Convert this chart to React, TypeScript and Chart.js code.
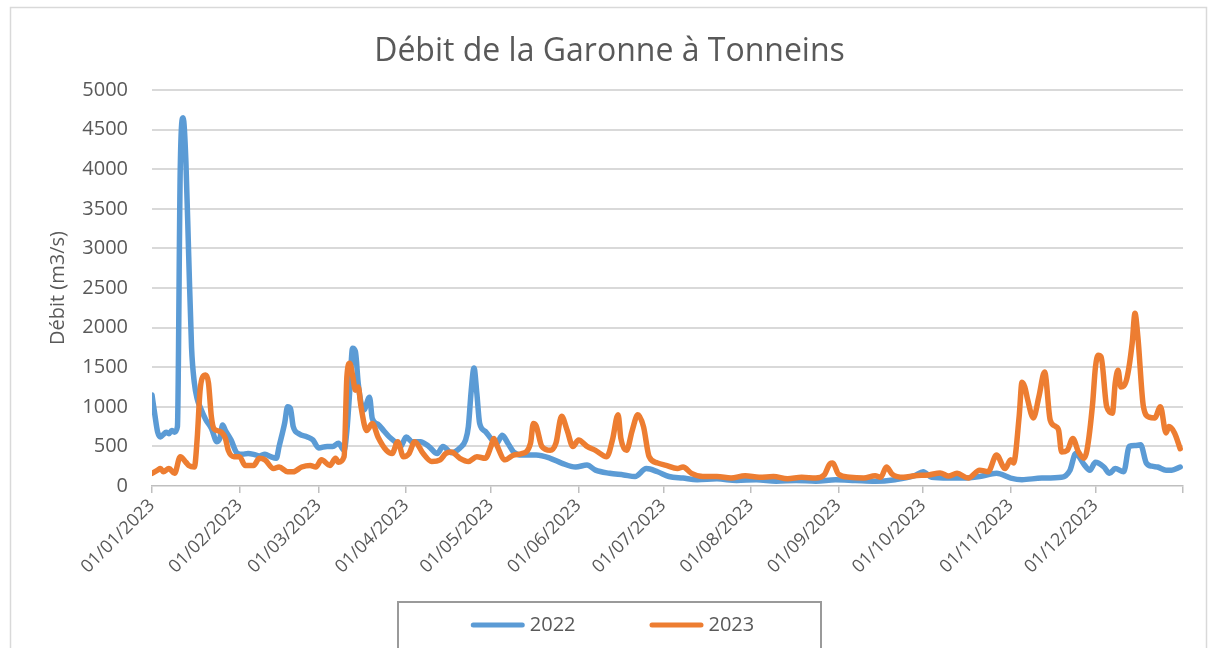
import React, { useEffect, useRef } from 'react';
import { Chart, registerables } from 'chart.js';

Chart.register(...registerables);

const chartTitle = 'Débit de la Garonne à Tonneins';
const yAxisTitle = 'Débit (m3/s)';
const seriesNames = ['2022', '2023'];
const seriesColors = ['#5B9BD5', '#ED7D31'];

// day offsets (from 01/01) of the month ticks, and their labels
const monthStartDays = [0, 31, 59, 90, 120, 151, 181, 212, 243, 273, 304, 334, 365];
const monthLabels = [
  '01/01/2023', '01/02/2023', '01/03/2023', '01/04/2023', '01/05/2023', '01/06/2023',
  '01/07/2023', '01/08/2023', '01/09/2023', '01/10/2023', '01/11/2023', '01/12/2023', '',
];

const yMin = 0;
const yMax = 5000;
const yStep = 500;

// 2022 series: day of year (0 = 01/01) and flow (m3/s)
const days2022 = [
  0, 1, 2, 3, 4, 5, 6, 7, 8, 9, 10, 11, 12, 13, 14, 15, 16, 17, 19, 21, 23, 24, 25, 26, 28, 30,
  32, 34, 36, 38, 40, 42, 44, 45, 47, 48, 49, 50, 52, 55, 57, 59, 62, 64, 66, 68, 69, 70, 71, 72,
  73, 74, 75, 77, 78, 80, 82, 84, 86, 88, 90, 92, 95, 98, 101, 103, 106, 109, 111, 112, 113, 114,
  115, 116, 118, 120, 122, 124, 126, 128, 131, 136, 141, 145, 150, 154, 157, 162, 167, 171, 175,
  179, 183, 188, 193, 200, 207, 214, 221, 228, 235, 242, 249, 256, 263, 270, 273, 276, 282, 287,
  293, 299, 304, 308, 315, 322, 325, 327, 330, 332, 334, 337, 339, 341, 344, 346, 348, 350, 352,
  354, 356, 359, 361, 364,
];
const flow2022 = [
  1150, 900, 680, 620, 650, 680, 660, 700, 680, 750, 4000, 4650, 4100, 2900, 1750, 1300, 1100, 1000,
  840, 730, 560, 600, 770, 700, 580, 420, 400, 410, 400, 380, 400, 370, 350, 500, 800, 1000, 980,
  750, 660, 620, 580, 480, 500, 500, 540, 450, 700, 1200, 1740, 1700, 1300, 1050, 960, 1120, 850,
  780, 700, 620, 560, 500, 620, 560, 560, 500, 410, 500, 420, 480, 580, 750, 1200, 1490, 1170, 790,
  690, 600, 540, 640, 540, 430, 390, 390, 350, 290, 240, 265, 200, 160, 140, 120, 220, 180, 120,
  100, 80, 90, 70, 80, 60, 70, 60, 80, 70, 60, 80, 130, 180, 110, 100, 100, 120, 160, 100, 80,
  100, 110, 200, 410, 270, 200, 300, 240, 160, 220, 180, 500, 510, 520, 290, 250, 240, 200, 200,
  240,
];

// 2023 series: day of year (0 = 01/01) and flow (m3/s)
const days2023 = [
  0, 2, 3, 4, 6, 8, 10, 12, 13, 15, 16, 17, 18, 19, 20, 21, 22, 24, 26, 27, 29, 31, 33, 36, 38,
  40, 43, 45, 48, 50, 53, 56, 58, 60, 63, 65, 66, 68, 69, 70, 71, 72, 73, 74, 76, 78, 80, 83, 85,
  87, 89, 91, 93, 96, 99, 102, 104, 106, 109, 112, 115, 118, 120, 121, 122, 125, 128, 131, 134,
  135, 136, 138, 141, 143, 145, 147, 149, 151, 154, 157, 161, 163, 165, 166, 168, 170, 172, 174,
  176, 179, 182, 186, 188, 191, 195, 200, 205, 210, 215, 220, 225, 230, 235, 238, 240, 241, 243,
  247, 252, 256, 258, 260, 262, 266, 270, 275, 279, 282, 285, 289, 293, 296, 299, 302, 304, 305,
  307, 308, 309, 310, 312, 314, 316, 318, 320, 321, 322, 324, 326, 328, 330, 331, 333, 334, 335,
  336, 338, 340, 341, 342, 343, 345, 347, 348, 349, 351, 353, 355, 357, 359, 360, 362, 364,
];
const flow2023 = [
  160, 200, 220, 180, 220, 160, 370, 300, 260, 240, 600, 1200, 1380, 1400, 1300, 880, 720, 690,
  600, 450, 370, 370, 260, 260, 350, 330, 220, 240, 180, 180, 240, 260, 240, 330, 260, 350, 300,
  370, 1380, 1550, 1400, 1210, 1250, 1000, 700, 790, 620, 450, 410, 560, 370, 410, 560, 410, 310,
  330, 410, 430, 350, 310, 370, 350, 500, 600, 520, 330, 390, 410, 540, 790, 760, 500, 450, 540,
  880, 700, 500, 580, 500, 450, 370, 580, 900, 600, 450, 700, 900, 750, 370, 290, 260, 220, 240,
  160, 120, 120, 100, 130, 110, 120, 90, 110, 100, 140, 280, 290, 150, 110, 100, 130, 110, 240,
  150, 110, 130, 140, 165, 125, 160, 100, 200, 180, 390, 220, 330, 290, 880, 1310, 1250, 1090,
  860, 1130, 1440, 830, 750, 700, 430, 450, 600, 430, 350, 450, 1040, 1500, 1650, 1630, 1000, 920,
  1300, 1460, 1250, 1340, 1800, 2180, 1890, 1000, 870, 860, 1000, 670, 750, 670, 470,
];

const FONT = "'Open Sans', 'DejaVu Sans', sans-serif";
const TEXT_COLOR = '#595959';

const framePlugin = {
  id: 'frameAndLegend',
  beforeDraw(chart: any) {
    const { ctx, width, height } = chart;
    ctx.save();
    ctx.fillStyle = '#ffffff';
    ctx.fillRect(0, 0, width, height);
    ctx.strokeStyle = '#d9d9d9';
    ctx.lineWidth = 1.5;
    ctx.strokeRect(10.5, 7.5, width - 23, height + 20);
    ctx.restore();
  },
  afterDraw(chart: any) {
    const { ctx, width } = chart;
    ctx.save();
    const boxW = 423;
    const boxLeft = Math.round(width / 2 - boxW / 2);
    const boxTop = 602;
    ctx.strokeStyle = '#9a9a9a';
    ctx.lineWidth = 2;
    ctx.strokeRect(boxLeft, boxTop, boxW, 80);
    ctx.font = `20px ${FONT}`;
    const lineLen = 54;
    const gap = 5;
    const itemGap = 74;
    const widths = seriesNames.map((n) => ctx.measureText(n).width);
    const total = widths.reduce((a, w) => a + lineLen + gap + w, 0) + itemGap * (seriesNames.length - 1);
    let x = width / 2 - total / 2 + 3;
    const cy = 625;
    seriesNames.forEach((name, i) => {
      ctx.strokeStyle = seriesColors[i];
      ctx.lineWidth = 5;
      ctx.lineCap = 'round';
      ctx.beginPath();
      ctx.moveTo(x + 2.5, cy);
      ctx.lineTo(x + lineLen - 2.5, cy);
      ctx.stroke();
      ctx.fillStyle = TEXT_COLOR;
      ctx.textBaseline = 'middle';
      ctx.textAlign = 'left';
      ctx.fillText(name, x + lineLen + gap, cy);
      x += lineLen + gap + widths[i] + itemGap;
    });
    ctx.restore();
  },
};

export default function App() {
  const canvasRef = useRef<HTMLCanvasElement | null>(null);

  useEffect(() => {
    const canvas = canvasRef.current;
    if (!canvas) return;
    const toPoints = (days: number[], vals: number[]) => days.map((d, i) => ({ x: d, y: vals[i] }));
    const chart = new Chart(canvas, {
      type: 'line',
      data: {
        datasets: [
          {
            label: seriesNames[0],
            data: toPoints(days2022, flow2022),
            borderColor: seriesColors[0],
            backgroundColor: seriesColors[0],
            borderWidth: 5.5,
            pointRadius: 0,
            tension: 0.3,
            cubicInterpolationMode: 'monotone',
            borderJoinStyle: 'round',
            borderCapStyle: 'round',
            order: 1,
          },
          {
            label: seriesNames[1],
            data: toPoints(days2023, flow2023),
            borderColor: seriesColors[1],
            backgroundColor: seriesColors[1],
            borderWidth: 5.5,
            pointRadius: 0,
            tension: 0.3,
            cubicInterpolationMode: 'monotone',
            borderJoinStyle: 'round',
            borderCapStyle: 'round',
            order: 0,
          },
        ],
      },
      options: {
        responsive: false,
        animation: false,
        events: [],
        layout: { padding: { left: 0, right: 0, top: 0, bottom: 42 } },
        plugins: {
          legend: { display: false },
          tooltip: { enabled: false },
          title: {
            display: true,
            text: chartTitle,
            color: TEXT_COLOR,
            font: { family: FONT, size: 32, weight: 'normal', lineHeight: 1.2 },
            padding: { top: 33, bottom: 18.6 },
          },
        },
        scales: {
          x: {
            type: 'linear',
            min: monthStartDays[0],
            max: monthStartDays[monthStartDays.length - 1],
            afterBuildTicks: (axis: any) => {
              axis.ticks = monthStartDays.map((v) => ({ value: v }));
            },
            afterFit: (axis: any) => {
              axis.height = 120;
            },
            ticks: {
              autoSkip: false,
              minRotation: 45,
              maxRotation: 45,
              padding: 2,
              color: TEXT_COLOR,
              font: { family: FONT, size: 18 },
              callback: (_v: any, i: number) => monthLabels[i],
            },
            grid: {
              drawOnChartArea: false,
              drawTicks: true,
              tickLength: 7,
              color: '#bfbfbf',
              lineWidth: 1.5,
            },
            border: { display: true, color: '#bfbfbf', width: 1.5 },
          },
          y: {
            min: yMin,
            max: yMax,
            afterFit: (axis: any) => {
              axis.width = 152;
            },
            ticks: {
              stepSize: yStep,
              padding: 24,
              color: TEXT_COLOR,
              font: { family: FONT, size: 20 },
              callback: (v: any) => String(v),
            },
            grid: {
              color: (c: any) => (c.tick && c.tick.value === 0 ? 'rgba(0,0,0,0)' : '#d9d9d9'),
              lineWidth: 2,
              drawTicks: false,
            },
            border: { display: false },
            title: {
              display: true,
              text: yAxisTitle,
              color: TEXT_COLOR,
              font: { family: FONT, size: 20, lineHeight: 1.2 },
              padding: { top: 46, bottom: 0 },
            },
          },
          // invisible spacer on the right to leave the margin after the plot
          spacer: {
            type: 'linear',
            position: 'right',
            display: true,
            ticks: { display: false },
            grid: { display: false },
            border: { display: false },
            afterFit: (axis: any) => {
              axis.width = 36;
            },
          },
        },
      },
      plugins: [framePlugin],
    } as any);
    return () => chart.destroy();
  }, []);

  return (
    <div style={{ position: 'fixed', left: 0, top: 0, width: 1219, height: 648, background: '#fff' }}>
      <canvas ref={canvasRef} width={1219} height={648} style={{ display: 'block' }} />
    </div>
  );
}
